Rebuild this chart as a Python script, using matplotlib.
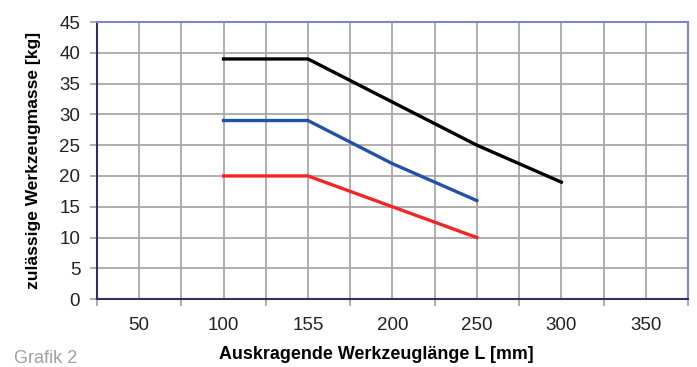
import matplotlib.pyplot as plt
import numpy as np

plt.rcParams["font.family"] = ["Liberation Sans", "DejaVu Sans"]

lengths = ["50", "100", "155", "200", "250", "300", "350"]
black_vals = [None, 39, 39, 32, 25, 19, None]
blue_vals = [None, 29, 29, 22, 16, None, None]
red_vals = [None, 20, 20, 15, 10, None, None]
y_ticks = [0, 5, 10, 15, 20, 25, 30, 35, 40, 45]


def to_array(vals):
    return np.array([np.nan if v is None else v for v in vals], dtype=float)


fig = plt.figure(figsize=(6.97, 3.67), dpi=100)
ax = fig.add_axes([0.139, 0.185, 0.848, 0.755])

xs = np.arange(len(lengths))
ax.set_xlim(-0.5, len(lengths) - 0.5)
ax.set_ylim(0, 45)

# gridlines at category centres and boundaries
for x in np.arange(-0.5, len(lengths), 0.5):
    ax.axvline(x, color="#a8a8a8", lw=1.3, zorder=1)
for y in y_ticks[1:]:
    ax.axhline(y, color="#a8a8a8", lw=1.3, zorder=1)

ax.plot(xs, to_array(black_vals), color="black", lw=2.4, zorder=3)
ax.plot(xs, to_array(blue_vals), color="#2350a8", lw=2.4, zorder=3)
ax.plot(xs, to_array(red_vals), color="#f52525", lw=2.4, zorder=3)

ax.set_yticks(y_ticks)
ax.set_xticks(xs)
ax.set_xticklabels(lengths)
ax.set_xticks(np.arange(-0.5, len(lengths), 1.0), minor=True)
ax.tick_params(axis="x", which="major", length=0, pad=13, labelsize=13.5, colors="#222222")
ax.tick_params(axis="x", which="minor", length=5, width=1.3, color="#a8a8a8")
ax.tick_params(axis="y", length=5, width=1.3, color="#a8a8a8", labelsize=13.5,
               labelcolor="#222222", pad=7)

ax.spines["left"].set_color("#30305a")
ax.spines["left"].set_linewidth(1.5)
ax.spines["bottom"].set_color("#30305a")
ax.spines["bottom"].set_linewidth(1.5)
ax.spines["top"].set_color("#7a88c8")
ax.spines["right"].set_color("#7a88c8")
ax.spines["top"].set_linewidth(1.5)
ax.spines["right"].set_linewidth(1.5)

ax.set_xlabel("Auskragende Werkzeuglänge L [mm]", fontsize=12.9, fontweight="bold")
ax.xaxis.set_label_coords(0.472, -0.168)
ax.set_ylabel("zulässige Werkzeugmasse [kg]", fontsize=12.5, fontweight="bold", labelpad=13)

fig.text(0.02, 0.012, "Grafik 2", fontsize=13, color="#a0a0a0")

fig.savefig("out.png", dpi=100)
